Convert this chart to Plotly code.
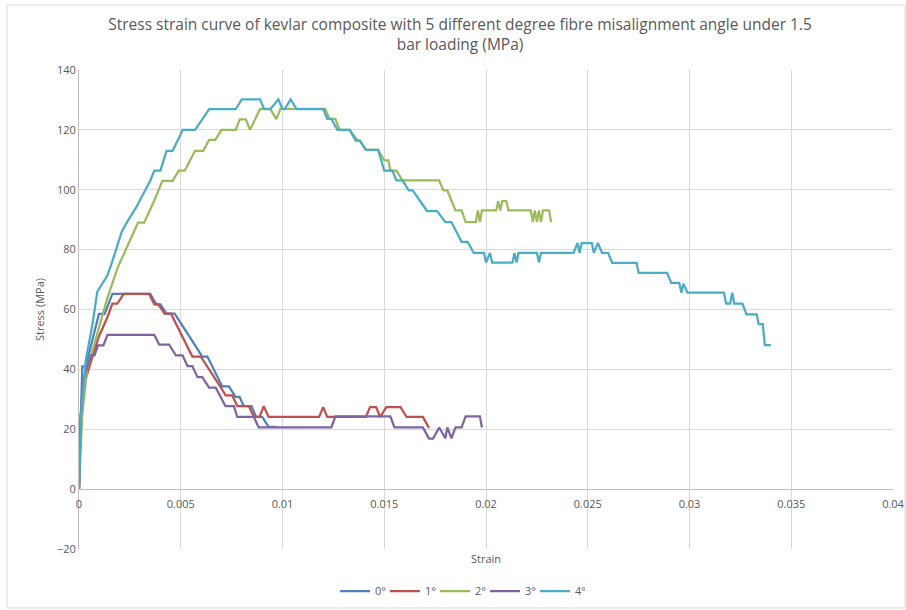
import plotly.graph_objects as go

# ---------------- data (strain, stress in MPa) ----------------
strain_0 = [0, 0.00016, 0.00033, 0.00098, 0.00126, 0.00164, 0.0035, 0.0038, 0.004, 0.0043, 0.0047,
            0.00606, 0.00631, 0.00704, 0.00737, 0.00769, 0.00789, 0.0081, 0.00848, 0.0087, 0.009,
            0.00932, 0.0097]
stress_0 = [0, 41, 41, 58.5, 58.5, 65.2, 65.2, 61.7, 61.7, 58.6, 58.6,
            44.3, 44.3, 34.3, 34.3, 30.8, 30.8, 27.7, 27.7, 24.1, 24.1,
            20.8, 20.8]

strain_1 = [0, 0.00008, 0.00025, 0.0005, 0.00074, 0.00098, 0.0014, 0.00164, 0.00188, 0.0022, 0.00345,
            0.0037, 0.0039, 0.0042, 0.00452, 0.00557, 0.00598, 0.00696, 0.0072, 0.00753, 0.00778,
            0.00835, 0.00859, 0.00887, 0.00908, 0.00932, 0.0118, 0.012, 0.0122, 0.0141, 0.0143,
            0.0146, 0.0148, 0.0151, 0.0158, 0.0161, 0.0169, 0.0172]
stress_1 = [0, 25, 35, 41, 46, 51, 57.5, 62, 62, 65.2, 65.2,
            61.7, 61.7, 58.6, 58.6, 44.3, 44.3, 34.1, 31.3, 31.3, 27.7,
            27.7, 24.1, 24.1, 27.7, 24.1, 24.1, 27.4, 24.1, 24.1, 27.4,
            27.4, 24.1, 27.4, 27.4, 24.1, 24.1, 20.4]

strain_2 = [0, 0.00016, 0.0004, 0.00066, 0.001, 0.0014, 0.0019, 0.0025, 0.0029, 0.0032, 0.0037,
            0.0041, 0.0046, 0.0049, 0.0052, 0.0057, 0.0061, 0.0064, 0.0067, 0.007, 0.0077,
            0.0079, 0.0082, 0.0084, 0.0089, 0.0094, 0.0097, 0.0099, 0.0121, 0.0123, 0.0126,
            0.0128, 0.0133, 0.0137, 0.0138, 0.0141, 0.0147, 0.015, 0.0152, 0.0153, 0.0156,
            0.0159, 0.0177, 0.0179, 0.0181, 0.0183, 0.0185, 0.0188, 0.019, 0.0195, 0.0196,
            0.0197, 0.0198, 0.0205, 0.0206, 0.0207, 0.0208, 0.021, 0.0211, 0.0222, 0.0223,
            0.0224, 0.0225, 0.0226, 0.0227, 0.0228, 0.0231, 0.0232]
stress_2 = [0, 25, 40, 46.4, 55, 64, 74, 83, 89, 89, 96.4,
            103, 103, 106.4, 106.4, 113, 113, 116.7, 116.7, 120, 120,
            123.5, 123.5, 120, 127, 127, 123.6, 127, 127, 123.7, 123.7,
            120, 120, 116.4, 116.4, 113.3, 113.3, 109.8, 109.8, 106.4, 106.4,
            103.1, 103.1, 99.8, 99.8, 96.4, 93.1, 93.1, 89.2, 89.2, 93.1,
            89.2, 93.1, 93.1, 96.2, 93.1, 96.2, 96.2, 93.1, 93.1, 89.2,
            93.1, 89.2, 93.1, 89.2, 93.1, 93.1, 89.2]

strain_3 = [0, 0.00008, 0.0002, 0.0006, 0.00077, 0.00093, 0.0012, 0.0014, 0.0037, 0.00394, 0.00443,
            0.00476, 0.00509, 0.00533, 0.00557, 0.00582, 0.00606, 0.00639, 0.00672, 0.0072, 0.00761,
            0.00778, 0.00859, 0.00883, 0.0124, 0.0126, 0.0153, 0.0155, 0.0169, 0.0172, 0.0174,
            0.0177, 0.018, 0.0181, 0.0183, 0.0185, 0.0188, 0.019, 0.0197, 0.0198]
stress_3 = [0, 23, 36.4, 44.8, 44.8, 48, 48, 51.5, 51.5, 48.3, 48.3,
            44.7, 44.7, 41.1, 41.1, 37.4, 37.4, 33.9, 33.9, 27.7, 27.7,
            24.1, 24.1, 20.6, 20.6, 24.3, 24.3, 20.6, 20.6, 16.9, 16.9,
            20.6, 17, 20.6, 17, 20.6, 20.6, 24.3, 24.3, 20.6]

strain_4 = [0, 0.0001, 0.00033, 0.00066, 0.0009, 0.00115, 0.0014, 0.0016, 0.0019, 0.0021, 0.0023,
            0.0028, 0.0035, 0.0037, 0.004, 0.0043, 0.0046, 0.0051, 0.0057, 0.0064, 0.0077,
            0.008, 0.0089, 0.0091, 0.0094, 0.0098, 0.01, 0.0101, 0.0104, 0.0107, 0.012,
            0.0122, 0.0124, 0.0127, 0.0133, 0.0136, 0.0138, 0.0141, 0.0147, 0.015, 0.0154,
            0.0156, 0.0159, 0.0162, 0.0164, 0.0171, 0.0176, 0.018, 0.0183, 0.0188, 0.0191,
            0.0194, 0.0199, 0.02, 0.0202, 0.0203, 0.0213, 0.0214, 0.0215, 0.0216, 0.0225,
            0.0226, 0.0227, 0.0243, 0.0245, 0.0246, 0.0247, 0.0252, 0.0253, 0.0255, 0.0257,
            0.026, 0.0262, 0.0274, 0.0275, 0.0289, 0.0291, 0.0295, 0.0296, 0.0297, 0.0299,
            0.0317, 0.0318, 0.032, 0.0321, 0.0322, 0.0326, 0.0328, 0.0333, 0.0334, 0.0336,
            0.0337, 0.034]
stress_4 = [0, 25, 43, 55, 66, 68.7, 71.4, 75.3, 82, 86, 88.5,
            94, 103, 106.4, 106.4, 113, 113, 120, 120, 126.9, 126.9,
            130.2, 130.2, 126.9, 126.9, 130.2, 126.9, 126.9, 130.2, 126.9, 126.9,
            123.7, 123.7, 120, 120, 116.4, 116.4, 113.3, 113.3, 106.4, 106.4,
            103.1, 103.1, 99.8, 99.8, 92.9, 92.9, 89.2, 89.2, 82.6, 82.6,
            78.9, 78.9, 75.7, 78.9, 75.7, 75.7, 78.9, 75.7, 78.9, 78.9,
            75.7, 78.9, 78.9, 82.2, 78.9, 82.2, 82.2, 78.9, 82.2, 78.9,
            78.9, 75.6, 75.6, 72.2, 72.2, 68.9, 68.9, 65.6, 68.6, 65.6,
            65.6, 62, 62, 65.6, 62, 62, 58.4, 58.4, 55.1, 55.1,
            48.1, 48.1]

series_names = ["0°", "1°", "2°", "3°", "4°"]
series_x = [strain_0, strain_1, strain_2, strain_3, strain_4]
series_y = [stress_0, stress_1, stress_2, stress_3, stress_4]
colors = ["#4F81BD", "#C0504D", "#9BBB59", "#8064A2", "#4BACC6"]

x_ticks = [0, 0.005, 0.01, 0.015, 0.02, 0.025, 0.03, 0.035, 0.04]
x_tick_labels = ["0", "0.005", "0.01", "0.015", "0.02", "0.025", "0.03", "0.035", "0.04"]
y_ticks = [-20, 0, 20, 40, 60, 80, 100, 120, 140]

title_text = ("Stress strain curve of kevlar composite with 5 different degree fibre misalignment angle under 1.5"
              "<br>bar loading (MPa)")

# ---------------- figure ----------------
FONT = "Open Sans, Noto Sans, sans-serif"
TXT = "#595959"
GRID = "#D9D9D9"

fig = go.Figure()
for name, xs, ys, c in zip(series_names, series_x, series_y, colors):
    fig.add_trace(go.Scatter(x=xs, y=ys, mode="lines", name=name,
                             line=dict(color=c, width=2.25)))

W, H = 906, 610
ml, mr, mt, mb = 79, 13, 70, 61
ph = H - mt - mb
pw = W - ml - mr

ymin, ymax = -20, 140
zero_frac = (0 - ymin) / (ymax - ymin)

fig.update_layout(
    width=W, height=H,
    margin=dict(l=ml, r=mr, t=mt, b=mb, autoexpand=False),
    paper_bgcolor="white", plot_bgcolor="white",
    font=dict(family=FONT, color=TXT, size=11),
    title=dict(text=title_text, x=460 / W, xref="container", xanchor="center",
               y=1 - 30 / H, yref="container", yanchor="middle",
               font=dict(family=FONT, size=15.5, color=TXT)),
    showlegend=True,
    legend=dict(orientation="h", x=(460 - ml) / pw, xanchor="center",
                y=-(591 - (H - mb)) / ph, yanchor="middle",
                font=dict(size=11, color=TXT), itemwidth=30,
                entrywidth=5, entrywidthmode="pixels",
                bgcolor="rgba(0,0,0,0)"),
    xaxis=dict(range=[0, 0.04], tickvals=x_ticks, ticktext=x_tick_labels,
               showgrid=True, gridcolor=GRID, gridwidth=1,
               zeroline=False, showline=True, linecolor="#BFBFBF", linewidth=1,
               anchor="free", position=zero_frac, ticks="outside", ticklen=5,
               tickcolor="rgba(0,0,0,0)", automargin=False,
               tickfont=dict(size=11, color=TXT)),
    yaxis=dict(range=[ymin, ymax], tickvals=y_ticks,
               showgrid=True, gridcolor=GRID, gridwidth=1,
               zeroline=False, showline=True, linecolor="#BFBFBF", linewidth=1,
               ticks="", tickfont=dict(size=11, color=TXT), automargin=False,
               title=dict(text="Stress (MPa)", font=dict(size=11, color=TXT), standoff=10)),
    annotations=[dict(text="Strain", x=0.5, xref="paper", y=-(558 - (H - mb)) / ph,
                      yref="paper", showarrow=False, xanchor="center", yanchor="middle",
                      font=dict(size=11, color=TXT))],
    shapes=[dict(type="rect", xref="paper", yref="paper",
                 x0=(7 - ml) / pw, x1=(905 - ml) / pw,
                 y0=-(608 - (H - mb)) / ph, y1=((H - mb) - 5) / ph,
                 line=dict(color="#D9D9D9", width=1), layer="below")],
)

fig.write_html("out.html")
